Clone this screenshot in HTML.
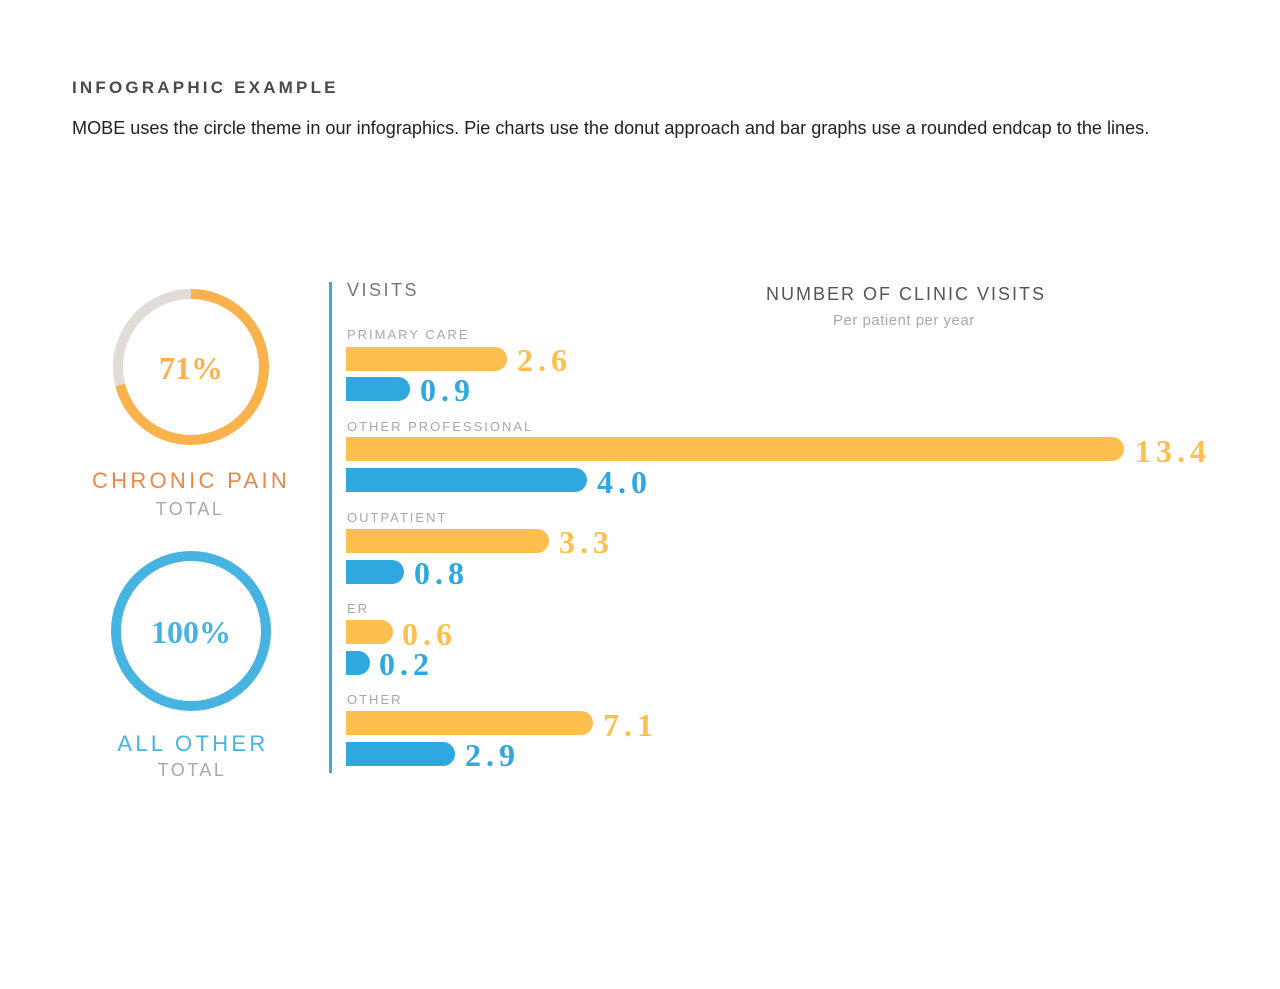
<!DOCTYPE html>
<html><head><style>
body{margin:0;width:1280px;height:989px;background:#fff;position:relative;font-family:"Liberation Sans",sans-serif;overflow:hidden}
.a{position:absolute;white-space:nowrap}
.bar{position:absolute;left:346px;height:24px;border-radius:0 12px 12px 0}
.y{background:#fdbf4d}.b{background:#2ea8df}
.v{position:absolute;font-family:"Liberation Serif",serif;font-weight:bold;font-size:32px;letter-spacing:5px;line-height:30px}
.vy{color:#fdbf4d}.vb{color:#2ea8df}
.lab{position:absolute;left:347px;font-size:13px;letter-spacing:2px;color:#a8a8a8}
</style></head><body>
<div class="a" style="left:72px;top:78px;font-size:17px;font-weight:bold;letter-spacing:3.2px;color:#4a4a4a">INFOGRAPHIC EXAMPLE</div>
<div class="a" style="left:72px;top:118px;font-size:18.1px;color:#222">MOBE uses the circle theme in our infographics. Pie charts use the donut approach and bar graphs use a rounded endcap to the lines.</div>

<svg class="a" style="left:0;top:0" width="330" height="800">
<circle cx="191" cy="367" r="73" fill="none" stroke="#e1ddd6" stroke-width="10"/>
<circle cx="191" cy="367" r="73" fill="none" stroke="#f9b24c" stroke-width="10" stroke-dasharray="325.7 500" transform="rotate(-90 191 367)"/>
<circle cx="191" cy="631" r="75" fill="none" stroke="#47b3e0" stroke-width="10"/>
<text x="191" y="379" text-anchor="middle" font-family="Liberation Serif" font-weight="bold" font-size="32" fill="#f9b24c">71%</text>
<text x="191" y="643" text-anchor="middle" font-family="Liberation Serif" font-weight="bold" font-size="32" fill="#47b3e0">100%</text>
<text x="191" y="488" text-anchor="middle" font-family="Liberation Sans" font-size="22" letter-spacing="3.3" fill="#e8884a">CHRONIC PAIN</text>
<text x="190" y="515" text-anchor="middle" font-family="Liberation Sans" font-size="18" letter-spacing="2.5" fill="#a8a8a8">TOTAL</text>
<text x="193" y="751" text-anchor="middle" font-family="Liberation Sans" font-size="22" letter-spacing="3.3" fill="#47b3e0">ALL OTHER</text>
<text x="192" y="776" text-anchor="middle" font-family="Liberation Sans" font-size="18" letter-spacing="2.5" fill="#a8a8a8">TOTAL</text>
</svg>
<div class="a" style="left:329px;top:282px;width:3px;height:491px;background:#3aaadf"></div>
<div class="a" style="left:347px;top:280px;font-size:18px;letter-spacing:2.5px;color:#777">VISITS</div>
<div class="a" style="left:766px;top:284px;font-size:18px;letter-spacing:2px;color:#555">NUMBER OF CLINIC VISITS</div>
<div class="a" style="left:833px;top:312px;font-size:15px;letter-spacing:0.5px;color:#aaa">Per patient per year</div>

<div class="lab" style="top:327px">PRIMARY CARE</div>
<div class="bar y" style="top:347px;width:161px"></div><div class="v vy" style="left:517px;top:345px">2.6</div>
<div class="bar b" style="top:377px;width:64px"></div><div class="v vb" style="left:420px;top:375px">0.9</div>

<div class="lab" style="top:419px">OTHER PROFESSIONAL</div>
<div class="bar y" style="top:437px;width:778px"></div><div class="v vy" style="left:1135px;top:436px">13.4</div>
<div class="bar b" style="top:468px;width:241px"></div><div class="v vb" style="left:597px;top:467px">4.0</div>

<div class="lab" style="top:510px">OUTPATIENT</div>
<div class="bar y" style="top:529px;width:203px"></div><div class="v vy" style="left:559px;top:527px">3.3</div>
<div class="bar b" style="top:560px;width:58px"></div><div class="v vb" style="left:414px;top:558px">0.8</div>

<div class="lab" style="top:601px">ER</div>
<div class="bar y" style="top:620px;width:47px"></div><div class="v vy" style="left:402px;top:619px">0.6</div>
<div class="bar b" style="top:651px;width:24px"></div><div class="v vb" style="left:379px;top:649px">0.2</div>

<div class="lab" style="top:692px">OTHER</div>
<div class="bar y" style="top:711px;width:247px"></div><div class="v vy" style="left:603px;top:710px">7.1</div>
<div class="bar b" style="top:742px;width:109px"></div><div class="v vb" style="left:465px;top:740px">2.9</div>
</body></html>
